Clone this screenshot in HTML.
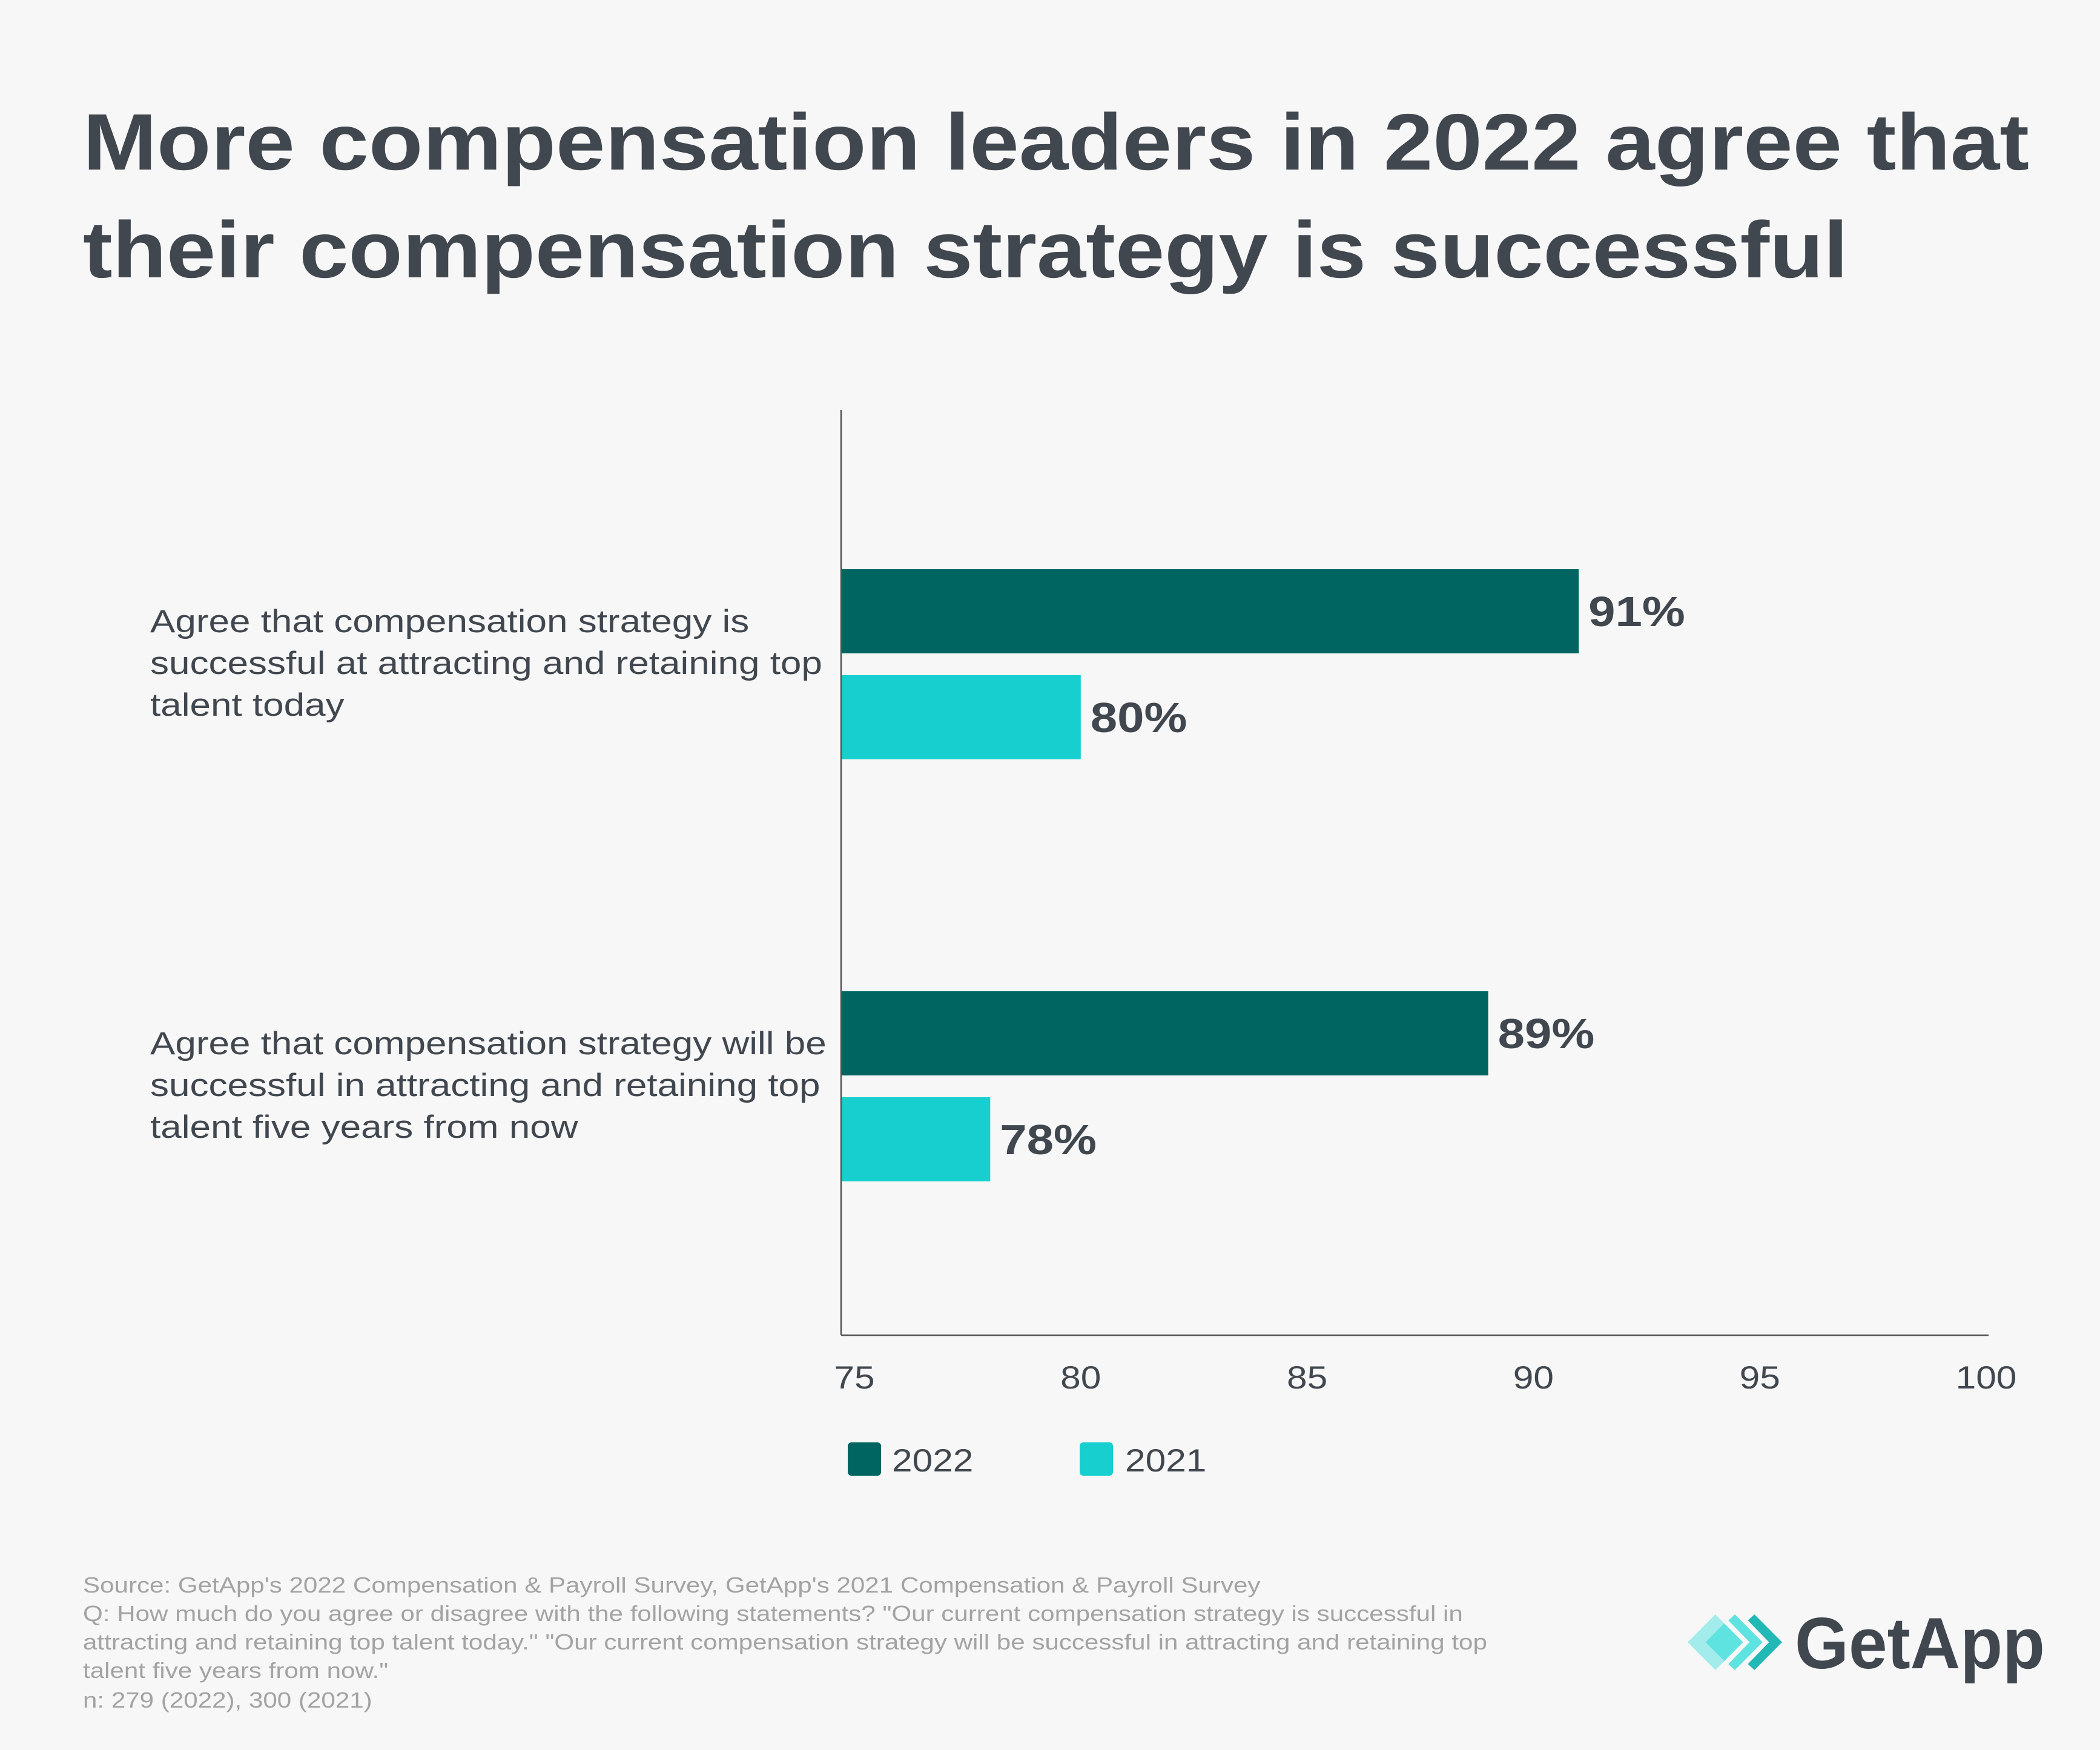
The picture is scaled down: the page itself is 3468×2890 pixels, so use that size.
<!DOCTYPE html>
<html><head><meta charset="utf-8"><style>
html,body{margin:0;padding:0;background:#f7f7f7;}
svg{display:block;font-family:"Liberation Sans",sans-serif;}
</style></head><body>
<svg id="chart" width="3468" height="2890" viewBox="0 0 3468 2890">
<rect width="3468" height="2890" fill="#f7f7f7"/>
<g fill="#41474f" font-weight="bold" font-size="132">
<text x="137" y="280" textLength="3214" lengthAdjust="spacingAndGlyphs">More compensation leaders in 2022 agree that</text>
<text x="137" y="458" textLength="2915" lengthAdjust="spacingAndGlyphs">their compensation strategy is successful</text>
</g>
<g id="plot"></g>
<g font-size="53" fill="#41474f">
<rect x="1400" y="2382" width="55" height="55" rx="6" fill="#006560"/>
<text class="st" x="1473" y="2430">2022</text>
<rect x="1783" y="2382" width="55" height="55" rx="6" fill="#17cfcf"/>
<text class="st" x="1858" y="2430">2021</text>
</g>
<g fill="#a3a3a3" font-size="36">
<text class="st2" x="137" y="2630">Source: GetApp's 2022 Compensation &amp; Payroll Survey, GetApp's 2021 Compensation &amp; Payroll Survey</text>
<text class="st2" x="137" y="2677">Q: How much do you agree or disagree with the following statements? "Our current compensation strategy is successful in</text>
<text class="st2" x="137" y="2724">attracting and retaining top talent today." "Our current compensation strategy will be successful in attracting and retaining top</text>
<text class="st2" x="137" y="2771">talent five years from now."</text>
<text class="st2" x="137" y="2820">n: 279 (2022), 300 (2021)</text>
</g>
<g>
<g transform="translate(2787,0) scale(1.345,1) translate(-2778,0)">
<polygon points="2778,2712 2812,2666 2846,2712 2812,2758" fill="#a3ecec"/>
<polygon points="2800,2712 2823,2681 2846,2712 2823,2743" fill="#5ee3e0"/>
<polygon points="2828,2676 2836,2666 2870,2712 2836,2758 2828,2748 2854,2712" fill="#5ee3e0"/>
<polygon points="2852,2676 2860,2666 2894,2712 2860,2758 2852,2748 2878,2712" fill="#21b8b5"/>
</g>
<text x="2964" y="2755" font-size="120" font-weight="bold" fill="#41474f" textLength="413" lengthAdjust="spacingAndGlyphs">GetApp</text>
</g>
</svg>
<script>
const categories = [
  ["Agree that compensation strategy is","successful at attracting and retaining top","talent today"],
  ["Agree that compensation strategy will be","successful in attracting and retaining top","talent five years from now"]
];
const values2022 = [91, 89];
const values2021 = [80, 78];
const ticks = [75, 80, 85, 90, 95, 100];
const NS = "http://www.w3.org/2000/svg";
const plot = document.getElementById("plot");
const axisX = 1389, axisRight = 3284, x0 = 1411, x1 = 3280, vmin = 75, vmax = 100;
const xs = v => x0 + (v - vmin) / (vmax - vmin) * (x1 - x0);
const groupTop = [940, 1637];
function mk(tag, attrs, txt){const e=document.createElementNS(NS,tag);for(const k in attrs)e.setAttribute(k,attrs[k]);if(txt!==undefined)e.textContent=txt;plot.appendChild(e);return e;}
categories.forEach((lines,i)=>{
  const t=groupTop[i];
  const b1=mk("rect",{x:axisX,y:t,width:xs(values2022[i])-axisX,height:139,fill:"#006560"});
  
  
  const b2=mk("rect",{x:axisX,y:t+175,width:xs(values2021[i])-axisX,height:139,fill:"#17cfcf"});
  
  
  const l1=mk("text",{x:xs(values2022[i])+16,y:t+94,"font-size":70,"font-weight":"bold",fill:"#41474f","class":"st"},values2022[i]+"%");
  
  
  const l2=mk("text",{x:xs(values2021[i])+16,y:t+269,"font-size":70,"font-weight":"bold",fill:"#41474f","class":"st"},values2021[i]+"%");
  
  
  lines.forEach((s,j)=>{
    const c=mk("text",{x:248,y:t+104+j*69,"font-size":53,fill:"#41474f","class":"st2"},s);
    
    
  });
});
const ya=mk("line",{x1:axisX,y1:677,x2:axisX,y2:2205,stroke:"#555","stroke-width":2.5});


const xa=mk("line",{x1:axisX,y1:2205,x2:axisRight,y2:2205,stroke:"#555","stroke-width":2.5});


ticks.forEach(v=>{
  const t=mk("text",{x:xs(v),y:2293,"font-size":53,fill:"#41474f","text-anchor":"middle","class":"st"},String(v));
  
  
});
function stretch(sel,f){document.querySelectorAll(sel).forEach(el=>{
  const w=el.getComputedTextLength();
  el.setAttribute("textLength",(w*f).toFixed(1));
  el.setAttribute("lengthAdjust","spacingAndGlyphs");
});}
stretch("text.st",1.14);
stretch("text.st2",1.17);
</script>
</body></html>
